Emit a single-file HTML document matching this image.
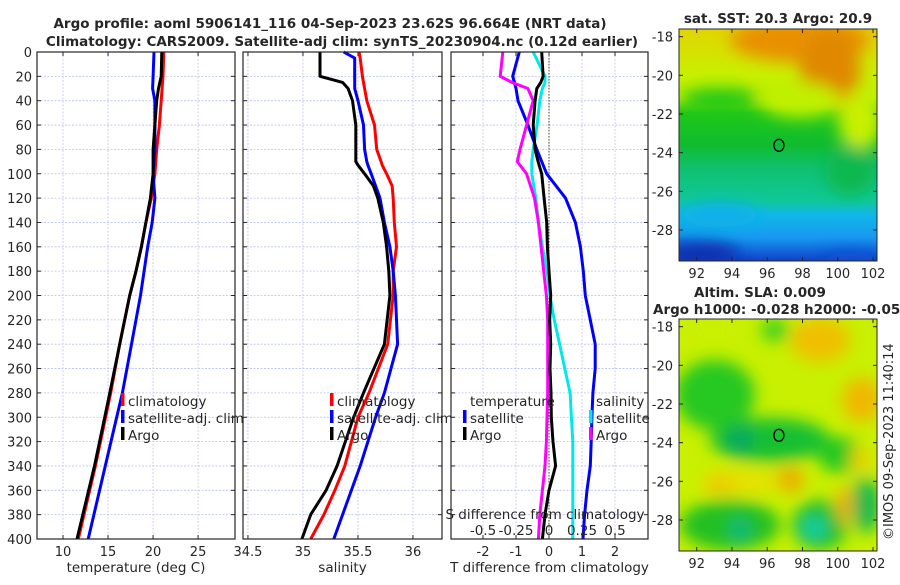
<!DOCTYPE html>
<html><head><meta charset="utf-8"><style>
body{margin:0;background:#fff;}
svg text{font-family:"DejaVu Sans","Liberation Sans",sans-serif;fill:#262626;}
</style></head><body>
<svg id="fig" width="900" height="580" viewBox="0 0 900 580" xmlns="http://www.w3.org/2000/svg">
<defs>
<filter id="blur8" x="-50%" y="-50%" width="200%" height="200%"><feGaussianBlur stdDeviation="8"/></filter>
<filter id="blur5" x="-50%" y="-50%" width="200%" height="200%"><feGaussianBlur stdDeviation="5"/></filter>
<clipPath id="clipM1"><rect x="679" y="29" width="198" height="232"/></clipPath>
<clipPath id="clipM2"><rect x="679" y="319" width="198" height="232"/></clipPath>
<linearGradient id="sstg" x1="0" y1="0" x2="0" y2="1">
<stop offset="0" stop-color="#e2d400"/><stop offset="0.2" stop-color="#c8f000"/><stop offset="0.3" stop-color="#b8ee00"/>
<stop offset="0.36" stop-color="#20c818"/><stop offset="0.5" stop-color="#10bb30"/><stop offset="0.6" stop-color="#10c070"/>
<stop offset="0.74" stop-color="#10c898"/><stop offset="0.8" stop-color="#10b8e8"/><stop offset="0.9" stop-color="#1898f0"/><stop offset="1" stop-color="#1040c8"/>
</linearGradient>
</defs>
<g font-weight="bold" font-size="13.5">
<text x="330" y="28" text-anchor="middle">Argo profile: aoml 5906141_116 04-Sep-2023 23.62S 96.664E (NRT data)</text>
<text x="342" y="46" text-anchor="middle">Climatology: CARS2009. Satellite-adj clim: synTS_20230904.nc (0.12d earlier)</text>
</g>
<g id="charts"></g>
<g clip-path="url(#clipM1)">
<rect x="679" y="29" width="198" height="232" fill="url(#sstg)"/>
<g filter="url(#blur8)">
<ellipse cx="800" cy="40" rx="70" ry="22" fill="#e89000"/>
<ellipse cx="830" cy="70" rx="30" ry="40" fill="#e08800"/>
<ellipse cx="860" cy="120" rx="22" ry="30" fill="#c8f000"/>
<ellipse cx="800" cy="100" rx="40" ry="18" fill="#c0f000"/>
<ellipse cx="720" cy="100" rx="40" ry="12" fill="#20c818"/>
<ellipse cx="850" cy="170" rx="25" ry="25" fill="#10b850"/>
<ellipse cx="700" cy="255" rx="40" ry="14" fill="#1030b0"/>
<ellipse cx="850" cy="260" rx="30" ry="8" fill="#1050d0"/>
<ellipse cx="720" cy="215" rx="40" ry="12" fill="#10b0e8"/>
</g>
</g>
<rect x="679" y="29" width="198" height="232" fill="none" stroke="#262626" stroke-width="1"/>
<g clip-path="url(#clipM2)">
<rect x="679" y="319" width="198" height="232" fill="#c8f000"/>
<g filter="url(#blur8)">
<ellipse cx="715" cy="395" rx="40" ry="35" fill="#28c820"/>
<ellipse cx="770" cy="440" rx="60" ry="22" fill="#18c030"/>
<ellipse cx="840" cy="455" rx="22" ry="18" fill="#20c820"/>
<ellipse cx="775" cy="330" rx="14" ry="12" fill="#40d020"/>
<ellipse cx="730" cy="525" rx="50" ry="25" fill="#20c020"/>
<ellipse cx="820" cy="525" rx="28" ry="25" fill="#20c030"/>
<ellipse cx="866" cy="505" rx="14" ry="28" fill="#10b850"/>
<ellipse cx="814" cy="528" rx="12" ry="10" fill="#10d0b0"/>
<ellipse cx="740" cy="530" rx="10" ry="12" fill="#10b880"/>
<ellipse cx="740" cy="440" rx="14" ry="14" fill="#10a860"/>
<ellipse cx="790" cy="480" rx="14" ry="12" fill="#f0a800"/>
<ellipse cx="740" cy="482" rx="40" ry="12" fill="#e8e000"/>
<ellipse cx="720" cy="485" rx="14" ry="10" fill="#f0c800"/>
<ellipse cx="820" cy="340" rx="30" ry="22" fill="#f0c000"/>
<ellipse cx="862" cy="400" rx="20" ry="22" fill="#f0b800"/>
<ellipse cx="845" cy="505" rx="8" ry="20" fill="#f0b000"/>
<ellipse cx="860" cy="460" rx="10" ry="14" fill="#e8d000"/>
</g>
</g>
<rect x="679" y="319" width="198" height="232" fill="none" stroke="#262626" stroke-width="1"/>
<g id="maps"></g>
<text transform="translate(893,540) rotate(-90)" font-size="13">©IMOS 09-Sep-2023 11:40:14</text>
</svg>
<script>
const depthsT = [0,20,30,40,60,80,100,120,140,160,180,200,240,280,340,400];
const tempArgo = [20.97,20.9,20.6,20.4,20.2,20.0,20.0,19.7,19.2,18.7,18.1,17.4,16.3,15.2,13.5,11.55];
const tempClim = [21.19,21.1,21.0,20.9,20.7,20.4,20.2,19.8,19.2,18.7,18.1,17.4,16.3,15.3,13.6,11.7];
const tempSat  = [20.1,20.0,19.95,20.2,20.2,20.2,20.0,20.2,19.9,19.4,19.0,18.6,17.6,16.6,14.7,12.8];
const depthsS = [0,5,20,25,30,40,60,80,90,93,100,110,120,140,160,180,200,240,280,300,340,360,380,400];
const salArgo = [35.155,35.155,35.155,35.36,35.41,35.45,35.48,35.48,35.48,35.5,35.56,35.64,35.68,35.73,35.76,35.78,35.79,35.74,35.55,35.46,35.31,35.21,35.07,34.99];
const salClim = [35.51,35.52,35.54,35.55,35.56,35.58,35.65,35.67,35.71,35.72,35.76,35.81,35.82,35.83,35.85,35.82,35.82,35.77,35.6,35.5,35.38,35.29,35.19,35.07];
const salSat  = [35.37,35.47,35.47,35.47,35.47,35.5,35.55,35.56,35.58,35.59,35.62,35.66,35.7,35.74,35.79,35.82,35.84,35.86,35.74,35.66,35.52,35.44,35.36,35.28];
const depthsD = [0,20,25,30,40,60,80,90,100,120,140,160,180,200,220,240,260,280,300,320,340,360,380,400];
const tDiffArgo = [-0.22,-0.18,-0.25,-0.37,-0.42,-0.48,-0.42,-0.33,-0.22,-0.15,-0.07,-0.05,0,0.05,0.02,0.05,0.03,0.06,0.07,0.12,0.2,0,-0.12,-0.2];
const tDiffSat  = [-0.9,-1.1,-1.05,-1.0,-0.94,-0.64,-0.37,-0.22,-0.07,0.5,0.8,0.95,1.04,1.1,1.25,1.4,1.4,1.33,1.3,1.28,1.25,1.15,1.08,1.03];
const sDiffArgo = [-0.35,-0.37,-0.28,-0.16,-0.12,-0.17,-0.22,-0.24,-0.17,-0.11,-0.08,-0.06,-0.04,-0.02,-0.01,-0.01,-0.01,-0.01,-0.015,-0.02,-0.03,-0.05,-0.07,-0.08];
const sDiffSat  = [-0.12,-0.03,-0.03,-0.05,-0.07,-0.09,-0.12,-0.13,-0.13,-0.1,-0.08,-0.05,-0.015,0.007,0.04,0.08,0.12,0.16,0.17,0.18,0.18,0.18,0.18,0.18];
const depthTicks = [0,20,40,60,80,100,120,140,160,180,200,220,240,260,280,300,320,340,360,380,400];
const tempTicks = [10,15,20,25];
const salTicks = [34.5,35,35.5,36];
const diffTicks = [-2,-1,0,1,2];
const sDiffTicks = [-0.5,-0.25,0,0.25,0.5];
const lonTicks = [92,94,96,98,100,102];
const latTicks = [-18,-20,-22,-24,-26,-28];

const NS='http://www.w3.org/2000/svg';
const root=document.getElementById('charts');
function el(tag,attrs,parent,txt){const e=document.createElementNS(NS,tag);for(const k in attrs)e.setAttribute(k,attrs[k]);if(txt!==undefined)e.textContent=txt;(parent||root).appendChild(e);return e;}
const Y0=52,Y1=539;
const yScale=d=>Y0+(d/400)*(Y1-Y0);
function xs(p,v){return p.x0+(v-p.min)/(p.max-p.min)*(p.x1-p.x0);}
const P1={x0:37,x1:235,min:7.11,max:29.1};
const P2={x0:243,x1:442,min:34.455,max:36.264};
const P3={x0:451,x1:648,min:-2.97,max:3.0};

function panel(p,ticks,tickLabels,title,name,showY){
  const g=el('g',{});
  
  
  el('rect',{x:p.x0,y:Y0,width:p.x1-p.x0,height:Y1-Y0,fill:'#fff'},g);
  depthTicks.forEach(d=>{const y=yScale(d);
    el('line',{x1:p.x0,x2:p.x1,y1:y,y2:y,stroke:'#b8c0f0','stroke-width':0.8,'stroke-dasharray':'2,1.5'},g);
    el('line',{x1:p.x0,x2:p.x0+4,y1:y,y2:y,stroke:'#262626'},g);
    el('line',{x1:p.x1,x2:p.x1-4,y1:y,y2:y,stroke:'#262626'},g);
    if(showY){const t=el('text',{x:p.x0-5,y:y+5,'text-anchor':'end','font-size':13},g,String(d));
      }
  });
  ticks.forEach((v,i)=>{const x=xs(p,v);
    el('line',{x1:x,x2:x,y1:Y0,y2:Y1,stroke:'#c8c0e8','stroke-width':0.8,'stroke-dasharray':'2,1.5'},g);
    el('line',{x1:x,x2:x,y1:Y1,y2:Y1-4,stroke:'#262626'},g);
    el('line',{x1:x,x2:x,y1:Y0,y2:Y0+4,stroke:'#262626'},g);
    const t=el('text',{x:x,y:556,'text-anchor':'middle','font-size':13},g,tickLabels[i]);
    
  });
  const tt=el('text',{x:(p.x0+p.x1)/2,y:572,'text-anchor':'middle','font-size':13.5},g,title);
  
  return g;
}
function line(g,p,vals,depths,color,name,mult){
  const pts=vals.map((v,i)=>xs(p,v*(mult||1)).toFixed(1)+','+yScale(depths[i]).toFixed(1)).join(' ');
  const l=el('polyline',{points:pts,fill:'none',stroke:color,'stroke-width':3,'stroke-linejoin':'round'},g);
  
  
}
function frame(g,p){el('rect',{x:p.x0,y:Y0,width:p.x1-p.x0,height:Y1-Y0,fill:'none',stroke:'#262626','stroke-width':1.2},g);}
function legendEntry(g,x,y,color,label){
  const e=el('g',{},g);
  
  
  if(color)el('rect',{x:x-7,y:y-13,width:3.5,height:13,fill:color},e);
  el('text',{x:x,y:y,'font-size':13.5},e,label);
}

const g1=panel(P1,tempTicks,tempTicks.map(String),'temperature (deg C)','temperature-panel',true);
line(g1,P1,tempClim,depthsT,'#ff0000','climatology-line');
line(g1,P1,tempSat,depthsT,'#0000ff','satellite-line');
line(g1,P1,tempArgo,depthsT,'#000000','argo-line');
frame(g1,P1);
legendEntry(g1,128,406,'#ff0000','climatology');
legendEntry(g1,128,423,'#0000ff','satellite-adj. clim');
legendEntry(g1,128,440,'#000000','Argo');

const g2=panel(P2,salTicks,salTicks.map(String),'salinity','salinity-panel',false);
line(g2,P2,salClim,depthsS,'#ff0000','climatology-line');
line(g2,P2,salSat,depthsS,'#0000ff','satellite-line');
line(g2,P2,salArgo,depthsS,'#000000','argo-line');
frame(g2,P2);
legendEntry(g2,337,406,'#ff0000','climatology');
legendEntry(g2,337,423,'#0000ff','satellite-adj. clim');
legendEntry(g2,337,440,'#000000','Argo');

const g3=panel(P3,diffTicks,diffTicks.map(String),'T difference from climatology','difference-panel',false);
el('line',{x1:xs(P3,0),x2:xs(P3,0),y1:Y0,y2:Y1,stroke:'#4a4a20','stroke-width':1,'stroke-dasharray':'1.5,1.5'},g3);
line(g3,P3,tDiffSat,depthsD,'#0000ff','t-diff-satellite-line');
line(g3,P3,sDiffSat,depthsD,'#00e8e8','s-diff-satellite-line',4);
line(g3,P3,sDiffArgo,depthsD,'#ff00ff','s-diff-argo-line',4);
line(g3,P3,tDiffArgo,depthsD,'#000000','t-diff-argo-line');
frame(g3,P3);
legendEntry(g3,470,406,null,'temperature');
legendEntry(g3,470,423,'#0000ff','satellite');
legendEntry(g3,470,440,'#000000','Argo');
legendEntry(g3,596,406,null,'salinity');
legendEntry(g3,596,423,'#00e8e8','satellite');
legendEntry(g3,596,440,'#ff00ff','Argo');
const st=el('text',{x:545,y:519,'text-anchor':'middle','font-size':13.5},g3,'S difference from climatology');

sDiffTicks.forEach(v=>{const t=el('text',{x:xs(P3,v*4),y:535,'text-anchor':'middle','font-size':13.5},g3,String(v));
  });

const mg=document.getElementById('maps');
function mapAxes(top,bottom,lat18y,lat28y,titles){
  const lx=v=>696.7+(v-92)*(873-696.7)/10;
  const ly=v=>lat18y+(-18-v)*(lat28y-lat18y)/10;
  lonTicks.forEach(v=>{const x=lx(v);
    el('line',{x1:x,x2:x,y1:bottom,y2:bottom-4,stroke:'#262626'},mg);
    el('line',{x1:x,x2:x,y1:top,y2:top+4,stroke:'#262626'},mg);
    const t=el('text',{x:x,y:bottom+17,'text-anchor':'middle','font-size':13},mg,String(v));
    });
  latTicks.forEach(v=>{const y=ly(v);
    el('line',{x1:679,x2:683,y1:y,y2:y,stroke:'#262626'},mg);
    el('line',{x1:877,x2:873,y1:y,y2:y,stroke:'#262626'},mg);
    const t=el('text',{x:673,y:y+5,'text-anchor':'end','font-size':13},mg,String(v));
    });
  const c=el('ellipse',{cx:lx(96.664),cy:ly(-23.62),rx:5,ry:6,fill:'none',stroke:'#000','stroke-width':1.3},mg);
  
  titles.forEach(t=>{const e=el('text',{x:t[0],y:t[1],'text-anchor':t[3]||'middle','font-size':13.5,'font-weight':'bold'},mg,t[2]);
    });
}
mapAxes(29,261,36.7,230,[[778,23,'sat. SST: 20.3 Argo: 20.9']]);
mapAxes(319,551,326.7,520,[[760,297,'Altim. SLA: 0.009'],[653,314,'Argo h1000: -0.028 h2000: -0.057','start']]);
</script>
</body></html>
